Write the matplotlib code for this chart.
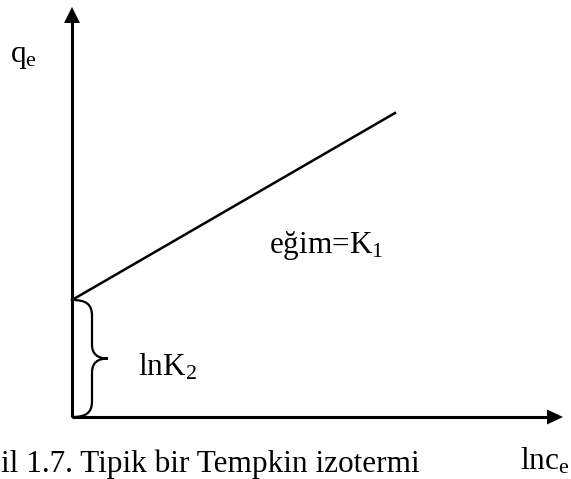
import matplotlib.pyplot as plt
from matplotlib.path import Path
from matplotlib.patches import PathPatch, Polygon

plt.rcParams['font.family'] = ['Liberation Serif', 'DejaVu Serif']
plt.rcParams['mathtext.fontset'] = 'custom'
plt.rcParams['mathtext.rm'] = 'Liberation Serif'
plt.rcParams['mathtext.it'] = 'Liberation Serif:italic'

# Tempkin isotherm: q_e = ln K2 + K1 * ln c_e (schematic)
intercept = 117          # ln K2
line_end_x = 323         # last ln c_e drawn
line_end_y = 304         # q_e at line_end_x
x_axis_len = 491
y_axis_len = 410

x_label = r'lnc$_\mathrm{e}$'
y_label = r'q$_\mathrm{e}$'
slope_label = r'eğim=K$_\mathrm{1}$'
intercept_label = r'lnK$_\mathrm{2}$'
caption = 'il 1.7. Tipik bir Tempkin izotermi'

fig = plt.figure(figsize=(5.71, 4.79), dpi=100)
ax = fig.add_axes([0, 0, 1, 1])
ax.set_xlim(-72, 499)
ax.set_ylim(-62, 417)
ax.axis('off')

# axes with arrow heads
ax.plot([0, x_axis_len - 14], [0, 0], color='black', lw=2.2, solid_capstyle='butt')
ax.plot([0, 0], [0, y_axis_len - 14], color='black', lw=2.2, solid_capstyle='butt')
ax.add_patch(Polygon([[x_axis_len, 0], [x_axis_len - 16, 7.5], [x_axis_len - 16, -7.5]],
                     closed=True, color='black', lw=0))
ax.add_patch(Polygon([[0, y_axis_len], [-8, y_axis_len - 16], [8, y_axis_len - 16]],
                     closed=True, color='black', lw=0))

# isotherm line
ax.plot([0, line_end_x], [intercept, line_end_y], color='black', lw=1.8)

# curly brace marking the intercept
mid = intercept / 2
bx, tip = 20, 36
verts = [
    (0, intercept), (14, intercept), (bx, intercept - 4), (bx, intercept - 16),
    (bx, mid + 14),
    (bx, mid + 4), (26, mid), (tip, mid),
    (26, mid), (bx, mid - 4), (bx, mid - 14),
    (bx, 16),
    (bx, 4), (14, 0), (0, 0),
]
codes = [Path.MOVETO, Path.CURVE4, Path.CURVE4, Path.CURVE4,
         Path.LINETO,
         Path.CURVE4, Path.CURVE4, Path.CURVE4,
         Path.CURVE4, Path.CURVE4, Path.CURVE4,
         Path.LINETO,
         Path.CURVE4, Path.CURVE4, Path.CURVE4]
ax.add_patch(PathPatch(Path(verts, codes), fc='none', ec='black', lw=1.6))

fs = 22.5
ax.text(-62, 355, y_label, fontsize=fs, va='baseline', ha='left')
ax.text(448, -52, x_label, fontsize=fs, va='baseline', ha='left')
ax.text(197, 164, slope_label, fontsize=fs, va='baseline', ha='left')
ax.text(66, 41, intercept_label, fontsize=fs, va='baseline', ha='left')
ax.text(-71, -55, caption, fontsize=fs, va='baseline', ha='left')

fig.savefig('out.png', dpi=100)
